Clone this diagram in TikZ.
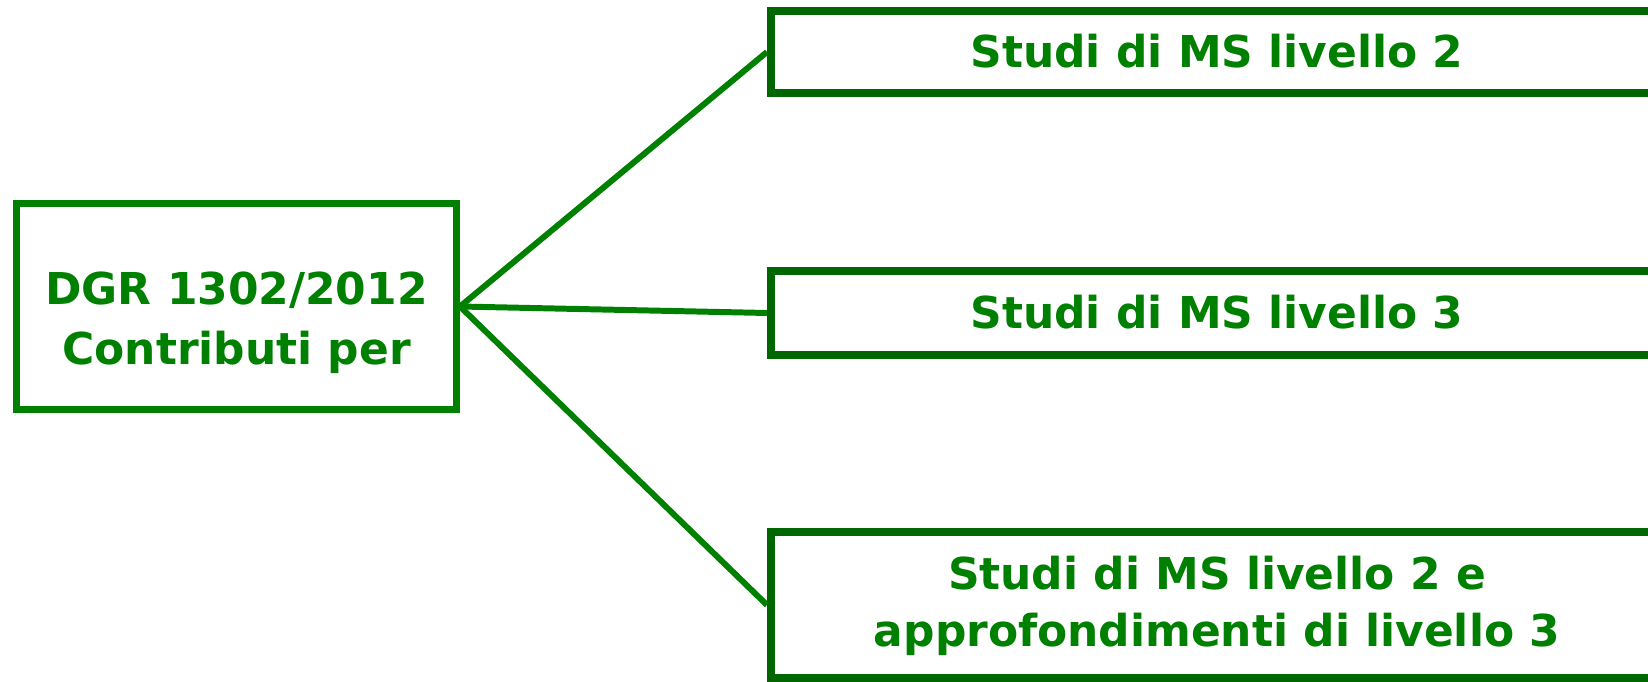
\documentclass[tikz,border=0pt]{standalone}
\usepackage{fontspec}
\setmainfont{DejaVu Sans}
\usetikzlibrary{positioning}
\definecolor{boxgreen}{RGB}{0,128,0}
\definecolor{darkgreen}{RGB}{0,102,0}

\begin{document}
\begin{tikzpicture}[
        mainbox/.style={draw=boxgreen, line width=2pt, align=center, inner sep=0pt,
            minimum width=4.40cm, minimum height=2.06cm},
        levelbox/.style={draw=darkgreen, line width=2.3pt, align=center, inner sep=0pt,
            minimum width=8.92cm},
        oneline/.style={text height=9.1pt, text depth=0pt},
        link/.style={draw=boxgreen, line width=1.7pt},
        font=\fontsize{12.5}{16.2}\selectfont\bfseries, text=boxgreen]
        % Frame
        \useasboundingbox (0,0) rectangle (16.48,6.81);
        \clip (0,0) rectangle (16.48,6.81);
        
        % Left box
        \node[mainbox] (dgr) at (2.365, 3.745)
            {\rule{0pt}{0.66cm}DGR 1302/2012\\[0.9pt]Contributi per};
        
        % Right boxes
        \node[levelbox, oneline, minimum height=0.82cm] (liv2) at (12.17, 6.29) {Studi di MS livello 2};
        \node[levelbox, oneline, minimum height=0.84cm] (liv3) at (12.17, 3.68) {Studi di MS livello 3};
        \node[levelbox, minimum height=1.46cm] (liv23) at (12.17, 0.76)
            {\rule{0pt}{0.36cm}Studi di MS livello 2 e\\approfondimenti di livello 3};
        
        % Links
        \foreach \b in {liv2,liv3,liv23} {
            \draw[link] (dgr.east) -- (\b.west);
        }
    \end{tikzpicture}
\end{document}
